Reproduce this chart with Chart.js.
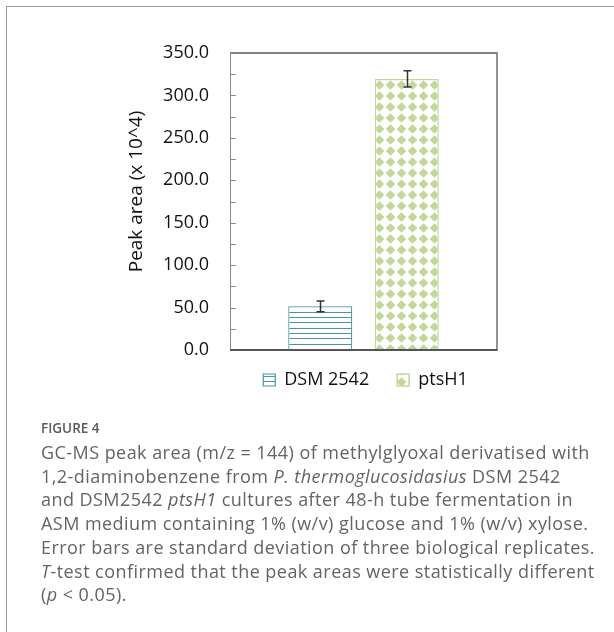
<!DOCTYPE html>
<html>
<head>
<meta charset="utf-8">
<script src="https://cdn.jsdelivr.net/npm/chart.js@4.4.1/dist/chart.umd.min.js"></script>
<style>
body{margin:0;background:#fff;width:614px;height:632px;overflow:hidden;position:relative;}
#frame{position:absolute;left:6px;top:6px;width:700px;height:700px;border-left:1.5px solid #9a9a9a;border-top:1.5px solid #9a9a9a;}
#myChart{position:absolute;left:0;top:0;}
#caption{position:absolute;left:41px;top:420px;font-family:"Open Sans",sans-serif;color:#646464;white-space:nowrap;}
.fig{font-size:13.5px;line-height:16px;font-weight:600;color:#5a5a5a;}
.txt{font-size:18px;line-height:23.7px;margin-top:5px;letter-spacing:0.45px;}
</style>
</head>
<body>
<div id="frame"></div>
<canvas id="myChart" width="614" height="420"></canvas>
<div id="caption">
<div class="fig">FIGURE 4</div>
<div class="txt">GC-MS peak area (m/z = 144) of methylglyoxal derivatised with<br>1,2-diaminobenzene from <i>P. thermoglucosidasius</i> DSM 2542<br>and DSM2542 <i>ptsH1</i> cultures after 48-h tube fermentation in<br>ASM medium containing 1% (w/v) glucose and 1% (w/v) xylose.<br>Error bars are standard deviation of three biological replicates.<br><i>T</i>-test confirmed that the peak areas were statistically different<br>(<i>p</i> &lt; 0.05).</div>
</div>
<script>
var CATEGORIES=[''];
var STRAINS=['DSM 2542','ptsH1'];
var PEAK_AREA=[51.5,319.5];
var PEAK_SD=[6.3,9.5];
var Y_MIN=0, Y_MAX=350, Y_STEP=50, Y_MINOR=25;
var Y_TITLE='Peak area (x 10^4)';

var TEAL='#4a93ab';
var GREEN='#c4d79b';

// fill patterns like the excel bars
function stripes(color){
    var c=document.createElement('canvas');c.width=8;c.height=16;
    var g=c.getContext('2d');
    g.fillStyle='#fff';g.fillRect(0,0,8,16);
    g.fillStyle=color;
    [2,8,13].forEach(function(y){g.fillRect(0,y,8,1);});
    return g.createPattern(c,'repeat');
}
function diamonds(color){
    var c=document.createElement('canvas');c.width=11;c.height=11;
    var g=c.getContext('2d');
    g.fillStyle='#fff';g.fillRect(0,0,11,11);
    g.fillStyle=color;
    [8,-3].forEach(function(cy){
        g.beginPath();
        g.moveTo(5.5,cy-4.8);g.lineTo(10.3,cy);g.lineTo(5.5,cy+4.8);g.lineTo(0.7,cy);
        g.closePath();g.fill();
    });
    return g.createPattern(c,'repeat');
}

var framePlugin={
    id:'frame',
    afterLayout:function(chart){
        var lg=chart.legend, a=chart.chartArea;
        var dx=(a.left+a.right)/2+2-(lg.left+lg.right)/2, dy=-7;
        lg.left+=dx;lg.right+=dx;lg.top+=dy;lg.bottom+=dy;
    },
    afterDatasetsDraw:function(chart){
        var ctx=chart.ctx, a=chart.chartArea, y=chart.scales.y;
        ctx.save();
        ctx.strokeStyle='#5a5a5a';ctx.lineWidth=1.3;
        ctx.beginPath();
        ctx.moveTo(a.left,a.top);ctx.lineTo(a.right,a.top);ctx.lineTo(a.right,a.bottom);
        ctx.stroke();
        ctx.strokeStyle='#8a8a8a';ctx.lineWidth=1;
        ctx.beginPath();
        ctx.moveTo(a.left+0.5,a.top);ctx.lineTo(a.left+0.5,a.bottom);
        for(var v=Y_MIN;v<=Y_MAX;v+=Y_MINOR){
            var py=Math.round(y.getPixelForValue(v))+0.5;
            ctx.moveTo(a.left,py);ctx.lineTo(a.left+6,py);
        }
        ctx.stroke();
        ctx.strokeStyle='#555';ctx.lineWidth=2;
        ctx.beginPath();ctx.moveTo(a.left,a.bottom);ctx.lineTo(a.right+0.6,a.bottom);ctx.stroke();
        // error bars
        ctx.strokeStyle='#333';ctx.lineWidth=1.5;
        chart.data.datasets.forEach(function(ds,i){
            var bar=chart.getDatasetMeta(i).data[0];
            var x=Math.round(bar.x)+0.5;
            var y1=y.getPixelForValue(ds.data[0]+ds.sd[0]);
            var y2=y.getPixelForValue(ds.data[0]-ds.sd[0]);
            ctx.beginPath();
            ctx.moveTo(x,y1);ctx.lineTo(x,y2);
            ctx.moveTo(x-4,y1);ctx.lineTo(x+4,y1);
            ctx.moveTo(x-4,y2);ctx.lineTo(x+4,y2);
            ctx.stroke();
        });
        // axis title, sits a bit above the middle of the axis
        ctx.translate(y.left+11,(a.top+a.bottom)/2-10);
        ctx.rotate(-Math.PI/2);
        ctx.font='19px "Open Sans", sans-serif';
        ctx.fillStyle='#111';ctx.textAlign='center';ctx.textBaseline='middle';
        ctx.fillText(Y_TITLE,0,0);
        ctx.restore();
    }
};

Chart.defaults.font.family='"Open Sans", sans-serif';
Chart.defaults.font.size=18;
Chart.defaults.color='#111';

var ctx=document.getElementById('myChart');
var myChart=new Chart(ctx,{
    type:'bar',
    data:{
        labels:CATEGORIES,
        datasets:[
            {label:STRAINS[0],data:[PEAK_AREA[0]],sd:[PEAK_SD[0]],backgroundColor:stripes(TEAL),borderColor:TEAL,borderWidth:1.2},
            {label:STRAINS[1],data:[PEAK_AREA[1]],sd:[PEAK_SD[1]],backgroundColor:diamonds(GREEN),borderColor:GREEN,borderWidth:1.5}
        ]
    },
    options:{
        responsive:false,
        animation:false,
        devicePixelRatio:1,
        categoryPercentage:0.648,
        barPercentage:0.74,
        layout:{padding:{left:126,right:117,top:53,bottom:14}},
        plugins:{
            legend:{
                position:'bottom',
                labels:{boxWidth:12,boxHeight:12,padding:28,color:'#111'}
            },
            tooltip:{enabled:false}
        },
        scales:{
            x:{display:false},
            y:{
                min:Y_MIN,max:Y_MAX,
                grid:{display:false,drawTicks:false},
                border:{display:false},
                ticks:{stepSize:Y_STEP,padding:21,callback:function(v){return v.toFixed(1);}},
                afterFit:function(s){s.width=104;}
            }
        }
    },
    plugins:[framePlugin]
});
</script>
</body>
</html>
